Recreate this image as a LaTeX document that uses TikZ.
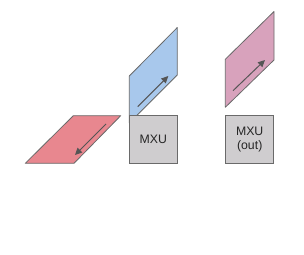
\documentclass[tikz,border=0pt]{standalone}
\usepackage{fontspec}
\setmainfont{Liberation Sans}
\usetikzlibrary{arrows.meta}
\definecolor{redfill}{HTML}{E8878F}
\definecolor{bluefill}{HTML}{A8C8EC}
\definecolor{pinkfill}{HTML}{D8A2BC}
\definecolor{boxfill}{HTML}{CFCDCF}
\definecolor{edge}{HTML}{6A6A6A}
\definecolor{arr}{HTML}{555555}
\tikzset{
  sheet/.style={draw=edge, line width=0.8pt, line join=round},
  mxubox/.style={draw=edge, line width=0.8pt, fill=boxfill, minimum width=48pt, minimum height=47.6pt, inner sep=0pt, align=center, font=\fontsize{12.3}{14.5}\selectfont, text=black!85},
  flow/.style={draw=arr, line width=1pt, -{Triangle[length=7pt,width=6.5pt]}}
}
\begin{document}
\begin{tikzpicture}[x=1pt,y=-1pt]
\useasboundingbox (0,0) rectangle (304,254);
% red sheet
\draw[sheet, fill=redfill] (25.3,163.3) -- (74,163.3) -- (120.7,115.7) -- (73.3,115.7) -- cycle;
\coordinate (r1) at (106,124);
\coordinate (r2) at (75,155);
\draw[flow] (r1) -- (r2);
% blue sheet
\draw[sheet, fill=bluefill] (129.3,123) -- (129.3,76) -- (177.3,27.5) -- (177.3,75) -- cycle;
\coordinate (b1) at (137.7,106.7);
\coordinate (b2) at (168.3,76);
\draw[flow] (b1) -- (b2);
% MXU box
\node[mxubox] (mxu) at (153.3,139.5) {MXU};
% pink sheet
\draw[sheet, fill=pinkfill] (225.3,107.3) -- (225.3,59.3) -- (274,11.5) -- (274,60) -- cycle;
\coordinate (p1) at (233,90.7);
\coordinate (p2) at (265,60);
\draw[flow] (p1) -- (p2);
% MXU out box
\node[mxubox] (mxuout) at (249.7,139.5) {MXU\\(out)};
\end{tikzpicture}
\end{document}
